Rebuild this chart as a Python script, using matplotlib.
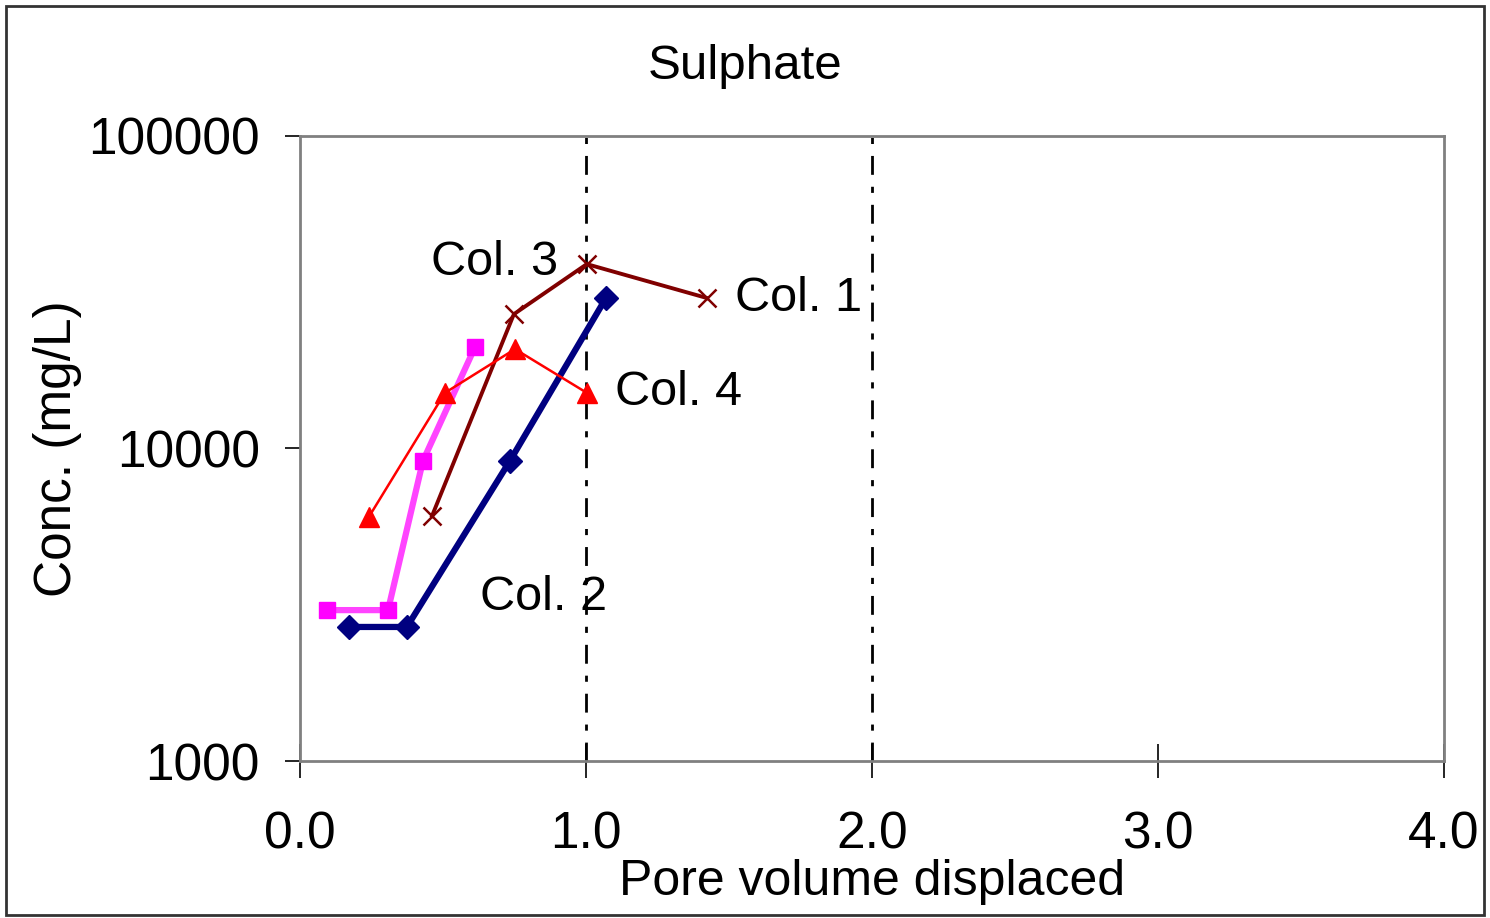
import numpy as np
import matplotlib.pyplot as plt
from matplotlib.ticker import FixedLocator, NullLocator

plt.rcParams['font.family'] = ['Liberation Sans', 'DejaVu Sans']

# -----------------------------
# Data
# -----------------------------
col1_x = [0.462, 0.748, 1.003, 1.423]
col1_y = [6090, 26900, 38900, 30300]

col2_x = [0.171, 0.374, 0.734, 1.070]
col2_y = [2685, 2685, 9120, 30300]

col3_x = [0.094, 0.308, 0.430, 0.612]
col3_y = [3040, 3040, 9120, 21100]

col4_x = [0.241, 0.507, 0.752, 1.003]
col4_y = [6040, 15070, 20800, 15070]

x_ticks = [0.0, 1.0, 2.0, 3.0, 4.0]
y_ticks = [1000, 10000, 100000]
pv_lines = [1.0, 2.0]

labels = ['Col. 1', 'Col. 2', 'Col. 3', 'Col. 4']
label_x = [1.52, 0.63, 0.46, 1.10]
label_y = [30300, 3325, 39300, 15070]

# -----------------------------
# Plot
# -----------------------------
fig = plt.figure(figsize=(14.9, 9.18), dpi=100)
ax = fig.add_axes([0.2013, 0.171, 0.7678, 0.6809])
ax.set_yscale('log')
ax.set_xlim(0, 4)
ax.set_ylim(1000, 100000)

for xv in pv_lines:
    ax.axvline(xv, color='black', lw=2, ls=(0, (6.8, 4.3, 2.2, 4.3)), zorder=1)

ax.plot(col2_x, col2_y, color='#000080', lw=4.5, marker='D', ms=12, zorder=3)
ax.plot(col3_x, col3_y, color='#ff44ff', lw=4.5, marker='s', ms=11,
        mfc='#ff00ff', mec='#ff00ff', zorder=3)
ax.plot(col1_x, col1_y, color='#800000', lw=2.8, marker='x', ms=13,
        mew=1.8, zorder=4)
ax.plot(col4_x, col4_y, color='#ff0000', lw=1.8, marker='^', ms=14, zorder=4)

for t, lx, ly in zip(labels, label_x, label_y):
    ax.text(lx, ly, t, fontsize=35, va='center', ha='left', zorder=5)

ax.xaxis.set_major_locator(FixedLocator(x_ticks))
ax.set_xticklabels([f'{v:.1f}' for v in x_ticks])
ax.yaxis.set_major_locator(FixedLocator(y_ticks))
ax.yaxis.set_minor_locator(NullLocator())
ax.set_yticklabels([str(v) for v in y_ticks])
ax.tick_params(axis='x', direction='inout', length=25, width=1.2,
               labelsize=37, pad=23)
ax.tick_params(axis='y', direction='out', length=11, width=1.2,
               labelsize=37, pad=18)

for s in ax.spines.values():
    s.set_color('#808080')
    s.set_linewidth(2)

ax.set_xlabel('Pore volume displaced', fontsize=36, labelpad=0)
ax.set_ylabel('Conc. (mg/L)', fontsize=37, labelpad=4)
fig.text(0.5, 0.928, 'Sulphate', fontsize=35.5, ha='center', va='center')

# outer chart border
fig.patches.append(plt.Rectangle((0.004, 0.003), 0.992, 0.99, transform=fig.transFigure,
                                 fill=False, edgecolor='#333333', lw=2))

fig.savefig('out.png', dpi=100)
